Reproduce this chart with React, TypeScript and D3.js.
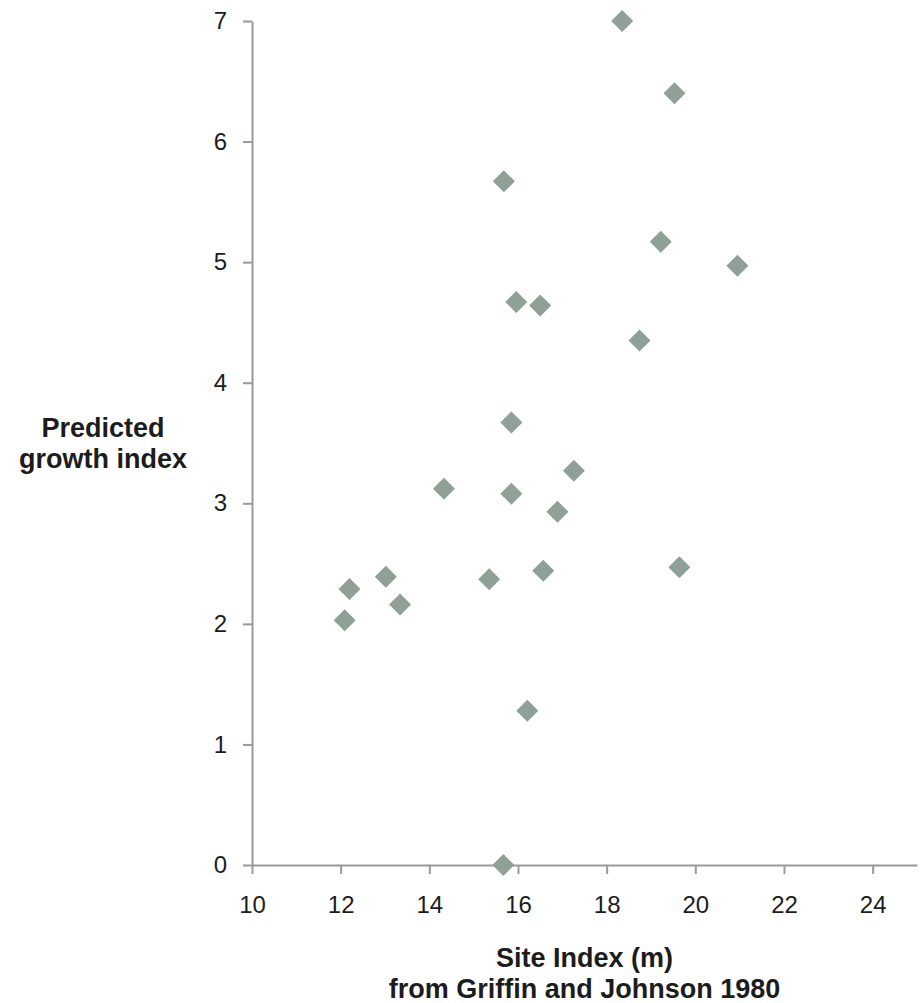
import React, { useEffect, useRef } from 'react';
import * as d3 from 'd3';

// site index (m) vs predicted growth index
const siteIndex = [18.35, 19.53, 15.68, 19.22, 20.95, 15.96, 16.5, 18.74, 15.85, 17.26, 14.33, 15.85, 16.89, 12.2, 13.02, 13.34, 12.09, 15.35, 16.57, 19.64, 16.21, 15.67];
const growthIndex = [7.0, 6.4, 5.67, 5.17, 4.97, 4.67, 4.64, 4.35, 3.67, 3.27, 3.12, 3.08, 2.93, 2.29, 2.39, 2.16, 2.03, 2.37, 2.44, 2.47, 1.28, 0.0];
const xTicks = [10, 12, 14, 16, 18, 20, 22, 24];
const yTicks = [0, 1, 2, 3, 4, 5, 6, 7];

const W = 922, H = 1003;
const margin = { top: 21, right: 5, bottom: 138, left: 252 };
const FONT = '"Liberation Sans", Arial, sans-serif';

const App = () => {
  const ref = useRef<SVGSVGElement | null>(null);

  useEffect(() => {
    const svg = d3.select(ref.current);
    svg.selectAll('*').remove();

    const x = d3.scaleLinear().domain([10, 25]).range([margin.left, W - margin.right]);
    const y = d3.scaleLinear().domain([0, 7]).range([H - margin.bottom, margin.top]);

    const axisColor = '#9a9a9a';
    const textColor = '#1c1c1c';

    const gx = svg.append('g')
      .attr('transform', 'translate(0,' + y(0) + ')')
      .call(d3.axisBottom(x).tickValues(xTicks).tickFormat(d3.format('d')).tickSize(9).tickPadding(22).tickSizeOuter(0));

    const gy = svg.append('g')
      .attr('transform', 'translate(' + x(10) + ',0)')
      .call(d3.axisLeft(y).tickValues(yTicks).tickFormat(d3.format('d')).tickSize(9).tickPadding(16).tickSizeOuter(0));

    [gx, gy].forEach(g => {
      g.select('.domain').attr('stroke', axisColor).attr('stroke-width', 2);
      g.selectAll('.tick line').attr('stroke', axisColor).attr('stroke-width', 2);
      g.selectAll('.tick text')
        .attr('fill', textColor)
        .attr('font-family', FONT)
        .attr('font-size', 24);
    });

    // diamonds
    const pts = siteIndex.map((s, i) => [s, growthIndex[i]]);
    const diamond = d3.symbol().type(d3.symbolSquare).size(242)();
    svg.append('g')
      .selectAll('path')
      .data(pts)
      .enter()
      .append('path')
      .attr('d', diamond)
      .attr('transform', d => 'translate(' + x(d[0]) + ',' + y(d[1]) + ') rotate(45)')
      .attr('fill', '#8fa096');

    const title = (lines: string[], cx: number, cy: number) => {
      const t = svg.append('text')
        .attr('text-anchor', 'middle')
        .attr('font-family', FONT)
        .attr('font-weight', 'bold')
        .attr('font-size', 27)
        .attr('fill', textColor);
      lines.forEach((l, i) => {
        t.append('tspan').attr('x', cx).attr('y', cy + i * 31).text(l);
      });
    };

    title(['Site Index (m)', 'from Griffin and Johnson 1980'], (x(10) + x(25)) / 2, 967);
    title(['Predicted', 'growth index'], 103, 437);
  }, []);

  return (
    <svg ref={ref} width={W} height={H}
         style={{ position: 'absolute', left: 0, top: 0, background: '#fff' }} />
  );
};

export default App;
